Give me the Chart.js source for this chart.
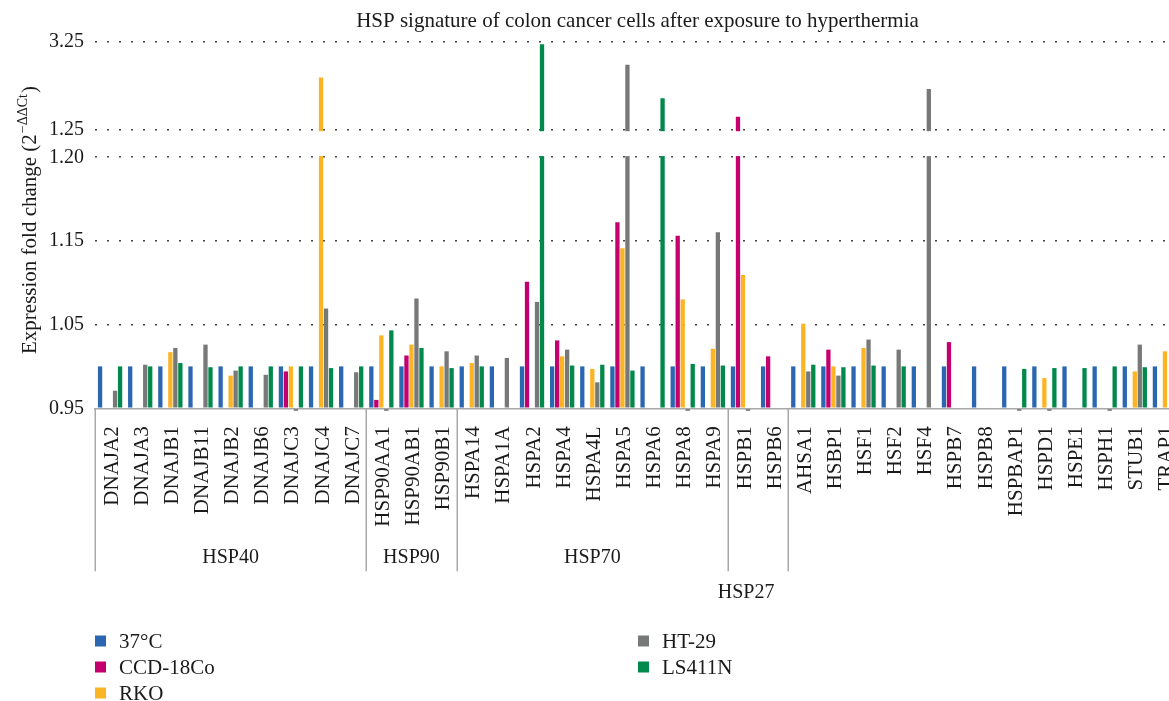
<!DOCTYPE html>
<html>
<head>
<meta charset="utf-8">
<script src="https://cdn.jsdelivr.net/npm/chart.js@4.4.0/dist/chart.umd.min.js"></script>
<style>
  html, body { margin: 0; padding: 0; background: #fff; overflow: hidden; }
  canvas { display: block; }
</style>
</head>
<body>
<canvas id="c" width="1181" height="701"></canvas>
<script>
// ---- data -------------------------------------------------------------
const genes = [
  'DNAJA2','DNAJA3','DNAJB1','DNAJB11','DNAJB2','DNAJB6','DNAJC3','DNAJC4','DNAJC7',
  'HSP90AA1','HSP90AB1','HSP90B1',
  'HSPA14','HSPA1A','HSPA2','HSPA4','HSPA4L','HSPA5','HSPA6','HSPA8','HSPA9',
  'HSPB1','HSPB6',
  'AHSA1','HSBP1','HSF1','HSF2','HSF4','HSPB7','HSPB8','HSPBAP1','HSPD1','HSPE1','HSPH1','STUB1','TRAP1'
];
const groupNames  = ['HSP40', 'HSP90', 'HSP70', 'HSP27'];
const groupStarts = [0, 9, 12, 21];
const groupEnds   = [9, 12, 21, 23];

const seriesNames = ['37°C', 'CCD-18Co', 'RKO', 'HT-29', 'LS411N'];

const control37 = [
  1.00,1.00,1.00,1.00,1.00,1.00,1.00,1.00,1.00,
  1.00,1.00,1.00,
  1.00,1.00,1.00,1.00,1.00,1.00,1.00,1.00,1.00,
  1.00,1.00,
  1.00,1.00,1.00,1.00,1.00,1.00,1.00,1.00,1.00,1.00,1.00,1.00,1.00
];
const ccd18co = [
  null,null,null,null,null,null,0.994,null,null,
  0.960,1.013,null,
  null,null,1.101,1.031,null,1.161,null,1.153,null,
  1.552,1.012,
  null,1.020,null,null,null,1.029,null,null,null,null,null,null,null
];
const rko = [
  null,null,1.017,null,0.989,null,1.000,2.442,null,
  1.037,1.026,1.000,
  1.004,null,null,1.012,0.997,1.141,null,1.080,1.021,
  1.109,null,
  1.051,1.000,1.022,null,null,null,null,null,0.986,null,null,0.994,1.018
];
const ht29 = [
  0.971,1.002,1.022,1.026,0.995,0.990,0.947,1.069,0.993,
  0.947,1.081,1.018,
  1.013,1.010,1.077,1.020,0.981,2.729,null,0.947,1.155,
  0.947,null,
  0.994,0.989,1.032,1.020,2.178,null,null,0.947,0.947,null,0.947,1.026,null
];
const ls411n = [
  1.000,1.000,1.004,0.999,1.000,1.000,1.000,0.998,1.000,
  1.043,1.022,0.998,
  1.000,null,3.190,1.001,1.002,0.995,1.967,1.003,1.001,
  null,null,
  1.002,0.999,1.001,1.000,null,null,null,0.997,0.998,0.998,1.000,0.999,null
];

const yTickValues = [0.95, 1.05, 1.15, 1.20, 1.25, 3.25];

// ---- styling ----------------------------------------------------------
const seriesColors = ['#2b67b1', '#c4006f', '#fbb424', '#777878', '#00894a'];
const FONT = '"Liberation Serif", "DejaVu Serif", serif';
const TEXT = '#1a1a1a';
const AXIS_GREY = '#a8a8a8';

// Value axis with a break: piecewise mapping [value, fraction of height].
// The gap between 1.20 and 1.25 is left blank.
const AXIS_KNOTS = [[0.95, 0], [1.15, 0.4572], [1.20, 0.6847], [1.25, 0.7591], [3.25, 1]];

class BrokenLinearScale extends Chart.LinearScale {
  buildTicks() {
    return yTickValues.map(v => ({ value: v }));
  }
  _fraction(v) {
    const k = AXIS_KNOTS;
    let i = 0;
    while (i < k.length - 2 && v > k[i + 1][0]) i++;
    const [v0, f0] = k[i], [v1, f1] = k[i + 1];
    return f0 + (v - v0) * (f1 - f0) / (v1 - v0);
  }
  getPixelForValue(v) {
    if (v === null || v === undefined || isNaN(v)) return NaN;
    return this.getPixelForDecimal(this._fraction(+v));
  }
  getValueForPixel(p) {
    const f = this.getDecimalForPixel(p);
    const k = AXIS_KNOTS;
    let i = 0;
    while (i < k.length - 2 && f > k[i + 1][1]) i++;
    const [v0, f0] = k[i], [v1, f1] = k[i + 1];
    return v0 + (f - f0) * (v1 - v0) / (f1 - f0);
  }
}
BrokenLinearScale.id = 'brokenLinear';
BrokenLinearScale.defaults = Chart.LinearScale.defaults;
Chart.register(BrokenLinearScale);

// Blank band across the axis break
const axisBreak = {
  id: 'axisBreak',
  afterDatasetsDraw(chart) {
    const { ctx, chartArea, scales: { y } } = chart;
    const yLow = y.getPixelForValue(1.20), yHigh = y.getPixelForValue(1.25);
    ctx.save();
    ctx.fillStyle = '#ffffff';
    ctx.fillRect(chartArea.left, yHigh + 1.2, chart.width - chartArea.left, yLow - yHigh - 2.4);
    ctx.restore();
  }
};

// Title, y-axis title, category groups and legend
const decorations = {
  id: 'decorations',
  afterDraw(chart) {
    const { ctx, chartArea, scales: { x } } = chart;
    ctx.save();
    ctx.fillStyle = TEXT;

    // title
    ctx.font = '21px ' + FONT;
    ctx.textAlign = 'center';
    ctx.textBaseline = 'alphabetic';
    ctx.fillText('HSP signature of colon cancer cells after exposure to hyperthermia',
                 (chartArea.left + chartArea.right) / 2, 27);

    // y-axis title with superscript exponent
    ctx.save();
    ctx.translate(36, 220);
    ctx.rotate(-Math.PI / 2);
    ctx.textAlign = 'left';
    const partA = 'Expression fold change (2', partB = '\u2212\u0394\u0394Ct', partC = ')';
    ctx.font = '21px ' + FONT;
    const wA = ctx.measureText(partA).width, wC = ctx.measureText(partC).width;
    ctx.font = '14px ' + FONT;
    const wB = ctx.measureText(partB).width;
    const x0 = -(wA + wB + wC + 2) / 2;
    ctx.font = '21px ' + FONT;
    ctx.fillText(partA, x0, 0);
    ctx.font = '14px ' + FONT;
    ctx.fillText(partB, x0 + wA + 1, -9);
    ctx.font = '21px ' + FONT;
    ctx.fillText(partC, x0 + wA + wB + 2, 0);
    ctx.restore();

    // category group separators and names
    const step = (x.getPixelForTick(1) - x.getPixelForTick(0));
    const edge = i => x.getPixelForTick(0) - step / 2 + i * step;
    const base = chartArea.bottom;
    ctx.strokeStyle = AXIS_GREY;
    ctx.lineWidth = 1.5;
    const bounds = new Set();
    groupStarts.forEach((s, g) => { bounds.add(s); bounds.add(groupEnds[g]); });
    bounds.forEach(b => {
      const px = Math.round(edge(b)) + 0.25;
      ctx.beginPath();
      ctx.moveTo(px, base);
      ctx.lineTo(px, base + 163);
      ctx.stroke();
    });
    ctx.font = '20px ' + FONT;
    ctx.textAlign = 'center';
    ctx.textBaseline = 'middle';
    groupNames.forEach((name, g) => {
      const l = edge(groupStarts[g]), r = edge(groupEnds[g]);
      const tooWide = ctx.measureText(name).width + 8 > (r - l);
      ctx.fillText(name, (l + r) / 2 - (tooWide ? 12 : 0), base + (tooWide ? 184 : 149));
    });

    // legend: two columns, filled top to bottom
    ctx.font = '21px ' + FONT;
    ctx.textAlign = 'left';
    ctx.textBaseline = 'middle';
    seriesNames.forEach((name, i) => {
      const col = Math.floor(i / 3), row = i % 3;
      const lx = 95 + col * 543, ly = 641 + row * 26;
      ctx.fillStyle = seriesColors[i];
      ctx.fillRect(lx, ly - 5.5, 11, 11);
      ctx.fillStyle = TEXT;
      ctx.fillText(name, lx + 24, ly + 1);
    });
    ctx.restore();
  }
};

const seriesData = [control37, ccd18co, rko, ht29, ls411n];

new Chart(document.getElementById('c'), {
  type: 'bar',
  data: {
    labels: genes,
    datasets: seriesData.map((d, i) => ({
      label: seriesNames[i],
      data: d,
      base: yTickValues[0],
      backgroundColor: seriesColors[i],
      borderWidth: 0,
      categoryPercentage: 0.83,
      barPercentage: 0.86,
      clip: false
    }))
  },
  options: {
    responsive: false,
    animation: false,
    devicePixelRatio: 1,
    layout: { padding: { top: 41.7, right: 1, left: 0, bottom: 0 } },
    plugins: {
      legend: { display: false },
      title: { display: false },
      tooltip: { enabled: false }
    },
    scales: {
      x: {
        type: 'category',
        offset: true,
        grid: { display: false, drawOnChartArea: false, drawTicks: false },
        border: { display: true, color: AXIS_GREY, width: 1.5 },
        ticks: {
          autoSkip: false,
          maxRotation: 90,
          minRotation: 90,
          padding: 18,
          labelOffset: 2,
          color: TEXT,
          font: { family: FONT, size: 21 }
        },
        afterFit(s) { s.height = 292.7; s.paddingLeft = 0; s.paddingRight = 0; }
      },
      y: {
        type: 'brokenLinear',
        min: 0.95,
        max: 3.25,
        grid: {
          drawTicks: false,
          lineWidth: 1.6,
          color: c => (c.tick && c.tick.value === 0.95) ? 'rgba(0,0,0,0)' : '#444'
        },
        border: { display: false, dash: [2, 10] },
        ticks: {
          padding: 11,
          color: TEXT,
          font: { family: FONT, size: 20 },
          callback: v => Number(v).toFixed(2)
        },
        afterFit(s) { s.width = 95; }
      }
    }
  },
  plugins: [axisBreak, decorations]
});
</script>
</body>
</html>
